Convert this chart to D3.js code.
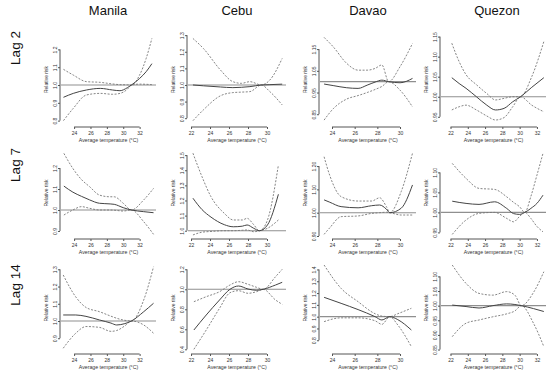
<!DOCTYPE html>
<html>
<head>
<meta charset="utf-8">
<script src="https://cdn.jsdelivr.net/npm/d3@7/dist/d3.min.js"></script>
<style>
  body { margin: 0; background: #fff; }
  text { font-family: "Liberation Sans", Arial, sans-serif; }
</style>
</head>
<body>
<svg id="chart" width="550" height="376"></svg>
<script>
// cities across, lags down
var cities = ["Manila", "Cebu", "Davao", "Quezon"];
var lags = ["Lag 2", "Lag 7", "Lag 14"];

// temperature axis per city
var xTicksByCity = [[24, 26, 28, 30, 32], [22, 24, 26, 28, 30], [24, 26, 28, 30], [22, 24, 26, 28, 30, 32]];
var xDomainByCity = [[22.4, 34.0], [21.68, 32.0], [22.94, 31.41], [20.9, 33.05]];

// one small record per panel: temperature, relative risk, 95% CI, y ticks
var manila2 = {
  temp: [22.7, 23.9, 25.5, 27.2, 28.7, 29.6, 30.5, 31.0, 32.0, 32.8, 33.5],
  rr:   [0.931, 0.953, 0.972, 0.981, 0.972, 0.968, 0.985, 1.0, 1.037, 1.075, 1.12],
  high: [1.088, 1.056, 1.019, 1.015, 1.006, 1.002, 1.001, 1.0, 1.056, 1.15, 1.262],
  low:  [0.80, 0.869, 0.944, 0.953, 0.948, 0.953, 0.976, 1.0, 1.005, 1.004, 1.002],
  yTicks: ["0.8", "0.9", "1.0", "1.1", "1.2"], yDomain: [0.781, 1.281]
};
var cebu2 = {
  temp: [22.2, 23.3, 25.1, 26.4, 27.3, 28.2, 29.4, 30.3, 31.6],
  rr:   [1.0, 0.995, 0.988, 0.984, 0.986, 0.99, 1.0, 1.002, 1.005],
  high: [1.28, 1.22, 1.09, 1.02, 1.01, 1.02, 1.0, 1.03, 1.16],
  low:  [0.785, 0.85, 0.935, 0.954, 0.957, 0.96, 1.0, 0.96, 0.88],
  yTicks: ["0.8", "0.9", "1.0", "1.1", "1.2", "1.3"], yDomain: [0.765, 1.301]
};
var davao2 = {
  temp: [23.3, 24.1, 25.3, 26.3, 27.1, 27.8, 28.4, 29.0, 30.0, 31.1],
  rr:   [0.989, 0.982, 0.972, 0.969, 0.984, 0.998, 1.007, 1.0, 0.995, 1.015],
  high: [1.204, 1.161, 1.084, 1.053, 1.053, 1.061, 1.077, 1.0, 1.069, 1.176],
  low:  [0.823, 0.875, 0.92, 0.936, 0.95, 0.964, 0.978, 1.0, 0.961, 0.884],
  yTicks: ["0.85", "0.95", "1.05", "1.15"], yDomain: [0.805, 1.215]
};
var quezon2 = {
  temp: [22.15, 23.0, 23.8, 25.0, 26.2, 27.2, 28.2, 29.2, 30.1, 31.4, 32.8],
  rr:   [1.0475, 1.033, 1.021, 1.0, 0.979, 0.967, 0.971, 0.9875, 1.0, 1.0235, 1.0475],
  high: [1.1335, 1.0875, 1.055, 1.03, 1.008, 0.992, 0.996, 1.0, 1.0, 1.05, 1.1375],
  low:  [0.967, 0.975, 0.979, 0.967, 0.952, 0.942, 0.948, 0.975, 1.0, 0.979, 0.9625],
  yTicks: ["0.95", "1.00", "1.05", "1.10", "1.15"], yDomain: [0.932, 1.154]
};

var manila7 = {
  temp: [22.75, 23.85, 24.9, 25.9, 27.1, 28.4, 28.9, 30.0, 31.0, 32.5, 33.7],
  rr:   [1.114, 1.085, 1.065, 1.048, 1.032, 1.029, 1.027, 1.011, 1.0, 0.992, 0.987],
  high: [1.27, 1.198, 1.145, 1.111, 1.071, 1.063, 1.063, 1.032, 1.0, 1.048, 1.103],
  low:  [0.976, 1.0, 1.016, 1.008, 1.0, 1.0, 0.999, 0.995, 1.0, 0.944, 0.884],
  yTicks: ["0.9", "1.0", "1.1", "1.2"], yDomain: [0.876, 1.286]
};
var cebu7 = {
  temp: [22.2, 23.15, 24.1, 25.5, 26.45, 27.4, 27.9, 28.6, 29.2, 30.05, 31.2],
  rr:   [1.215, 1.14, 1.09, 1.04, 1.026, 1.03, 1.038, 1.016, 1.0, 1.038, 1.241],
  high: [1.513, 1.358, 1.225, 1.115, 1.071, 1.071, 1.082, 1.04, 1.0, 1.071, 1.435],
  low:  [0.972, 0.99, 0.995, 1.0, 1.0, 1.003, 1.005, 0.993, 1.0, 1.016, 1.071],
  yTicks: ["1.0", "1.1", "1.2", "1.3", "1.4", "1.5"], yDomain: [0.965, 1.534]
};
var davao7 = {
  temp: [23.3, 23.8, 24.8, 26.3, 27.5, 28.2, 28.8, 29.1, 30.1, 31.1],
  rr:   [1.055, 1.045, 1.026, 1.021, 1.03, 1.033, 1.015, 1.0, 1.019, 1.119],
  high: [1.24, 1.16, 1.069, 1.05, 1.05, 1.064, 1.026, 1.0, 1.09, 1.255],
  low:  [0.907, 0.935, 0.983, 0.986, 0.997, 1.0, 1.002, 1.0, 0.99, 0.99],
  yTicks: ["0.90", "1.00", "1.10", "1.20"], yDomain: [0.90, 1.269]
};
var quezon7 = {
  temp: [22.2, 23.8, 25.3, 27.1, 28.5, 29.3, 30.0, 30.6, 31.3, 32.0, 32.7],
  rr:   [1.028, 1.0225, 1.02, 1.0265, 1.01, 0.997, 0.995, 1.0, 1.01, 1.0225, 1.043],
  high: [1.1225, 1.085, 1.06, 1.0575, 1.039, 1.025, 1.014, 1.0, 1.04, 1.093, 1.1475],
  low:  [0.945, 0.981, 0.9975, 1.0, 0.985, 0.9765, 0.99, 1.0, 0.985, 0.965, 0.9515],
  yTicks: ["0.95", "1.00", "1.05", "1.10"], yDomain: [0.941, 1.156]
};

var manila14 = {
  temp: [22.67, 24.2, 25.45, 27.1, 28.5, 29.2, 30.2, 31.0, 32.5, 33.7],
  rr:   [1.035, 1.035, 1.027, 1.006, 0.988, 0.977, 0.985, 1.0, 1.054, 1.103],
  high: [1.267, 1.14, 1.079, 1.054, 1.028, 1.016, 1.004, 1.0, 1.122, 1.315],
  low:  [0.842, 0.929, 0.968, 0.963, 0.94, 0.945, 0.972, 1.0, 0.977, 0.929],
  yTicks: ["0.9", "1.0", "1.1", "1.2", "1.3"], yDomain: [0.826, 1.325]
};
var cebu14 = {
  temp: [22.3, 23.6, 25.0, 26.1, 27.0, 28.0, 28.9, 29.6, 30.9, 31.6],
  rr:   [0.593, 0.743, 0.893, 1.0, 1.033, 1.003, 0.99, 1.0, 1.043, 1.07],
  high: [0.876, 0.926, 0.976, 1.043, 1.076, 1.05, 1.02, 1.0, 1.126, 1.2],
  low:  [0.40, 0.593, 0.81, 0.966, 0.986, 0.96, 0.976, 1.0, 0.893, 0.85],
  yTicks: ["0.4", "0.6", "0.8", "1.0", "1.2"], yDomain: [0.383, 1.243]
};
var davao14 = {
  temp: [23.3, 24.8, 26.3, 27.8, 28.4, 29.1, 29.8, 31.0],
  rr:   [1.164, 1.113, 1.06, 1.0, 0.972, 1.0, 0.975, 0.887],
  high: [1.438, 1.24, 1.127, 1.025, 1.005, 1.0, 1.025, 1.071],
  low:  [0.958, 0.99, 0.99, 0.965, 0.935, 1.0, 0.93, 0.746],
  yTicks: ["0.8", "0.9", "1.0", "1.1", "1.2", "1.3", "1.4"], yDomain: [0.709, 1.438]
};
var quezon14 = {
  temp: [22.2, 23.8, 25.3, 26.9, 28.5, 29.45, 30.2, 31.6, 32.8],
  rr:   [1.002, 0.997, 0.992, 1.0, 1.006, 1.004, 1.0, 0.99, 0.98],
  high: [1.139, 1.076, 1.042, 1.036, 1.048, 1.036, 1.0, 1.045, 1.116],
  low:  [0.894, 0.94, 0.951, 0.962, 0.972, 0.982, 1.0, 0.94, 0.86],
  yTicks: ["0.85", "0.90", "0.95", "1.00", "1.05", "1.10"], yDomain: [0.845, 1.139]
};

var panels = [
  [manila2, cebu2, davao2, quezon2],
  [manila7, cebu7, davao7, quezon7],
  [manila14, cebu14, davao14, quezon14]
];

// plot regions (px)
var colX = [[61, 156], [188, 286], [320, 416], [441, 546]];
var rowY = [[35, 124], [150, 236], [265, 351]];
var titleX = [108, 237, 368, 497];
var lagY = [48, 165, 285];

var svg = d3.select("#chart");

svg.selectAll("text.city")
    .data(cities)
  .enter().append("text")
    .attr("class", "city")
    .attr("x", function(d, i) { return titleX[i]; })
    .attr("y", 15)
    .attr("text-anchor", "middle")
    .attr("font-size", 13)
    .attr("fill", "#111")
    .text(function(d) { return d; });

svg.selectAll("text.lag")
    .data(lags)
  .enter().append("text")
    .attr("class", "lag")
    .attr("transform", function(d, i) { return "translate(20," + lagY[i] + ") rotate(-90)"; })
    .attr("text-anchor", "middle")
    .attr("font-size", 13.5)
    .attr("fill", "#111")
    .text(function(d) { return d; });

panels.forEach(function(row, r) {
  row.forEach(function(p, c) {
    var x = d3.scaleLinear().domain(xDomainByCity[c]).range(colX[c]);
    var y = d3.scaleLinear().domain(p.yDomain).range([rowY[r][1], rowY[r][0]]);
    var g = svg.append("g");

    // reference line at RR = 1
    g.append("line")
        .attr("x1", colX[c][0]).attr("x2", colX[c][1])
        .attr("y1", y(1)).attr("y2", y(1))
        .attr("stroke", "#8f8f8f").attr("stroke-width", 1.1);

    var line = d3.line()
        .x(function(d, i) { return x(p.temp[i]); })
        .y(function(d) { return y(d); })
        .curve(d3.curveMonotoneX);

    [["high", "#777", "2,1.5"], ["low", "#777", "2,1.5"], ["rr", "#444", null]].forEach(function(s) {
      g.append("path")
          .attr("d", line(p[s[0]]))
          .attr("fill", "none")
          .attr("stroke", s[1])
          .attr("stroke-width", s[0] === "rr" ? 1 : 0.9)
          .attr("stroke-dasharray", s[2]);
    });

    // y axis, R style: line spans first..last tick, rotated labels
    var yt = p.yTicks.map(Number);
    var ya = g.append("g")
        .attr("transform", "translate(" + (colX[c][0] - 1) + ",0)")
        .call(d3.axisLeft(y).tickValues(yt).tickSize(2)
          .tickFormat(function(d, i) { return p.yTicks[i]; }));
    ya.select(".domain").remove();
    ya.append("line")
        .attr("y1", y(yt[0])).attr("y2", y(yt[yt.length - 1]))
        .attr("stroke", "#555");
    ya.selectAll(".tick line").attr("stroke", "#555");
    ya.selectAll(".tick text")
        .attr("transform", "rotate(-90)")
        .attr("x", 0).attr("y", -3.5).attr("dy", 0)
        .attr("text-anchor", "middle")
        .attr("font-size", 5).attr("fill", "#333");

    // x axis
    var xt = xTicksByCity[c];
    var xa = g.append("g")
        .attr("transform", "translate(0," + (rowY[r][1] + 3) + ")")
        .call(d3.axisBottom(x).tickValues(xt).tickSize(2));
    xa.select(".domain").remove();
    xa.append("line")
        .attr("x1", x(xt[0])).attr("x2", x(xt[xt.length - 1]))
        .attr("stroke", "#555");
    xa.selectAll(".tick line").attr("stroke", "#555");
    xa.selectAll(".tick text")
        .attr("y", 4).attr("dy", "0.71em")
        .attr("font-size", 5).attr("fill", "#333");

    g.append("text")
        .attr("x", (colX[c][0] + colX[c][1]) / 2)
        .attr("y", rowY[r][1] + 18)
        .attr("text-anchor", "middle")
        .attr("font-size", 5.2).attr("fill", "#333")
        .text("Average temperature (\u00b0C)");

    g.append("text")
        .attr("transform", "translate(" + (colX[c][0] - 13) + "," + ((rowY[r][0] + rowY[r][1]) / 2) + ") rotate(-90)")
        .attr("text-anchor", "middle")
        .attr("font-size", 5).attr("fill", "#333")
        .text("Relative risk");
  });
});
</script>
</body>
</html>
